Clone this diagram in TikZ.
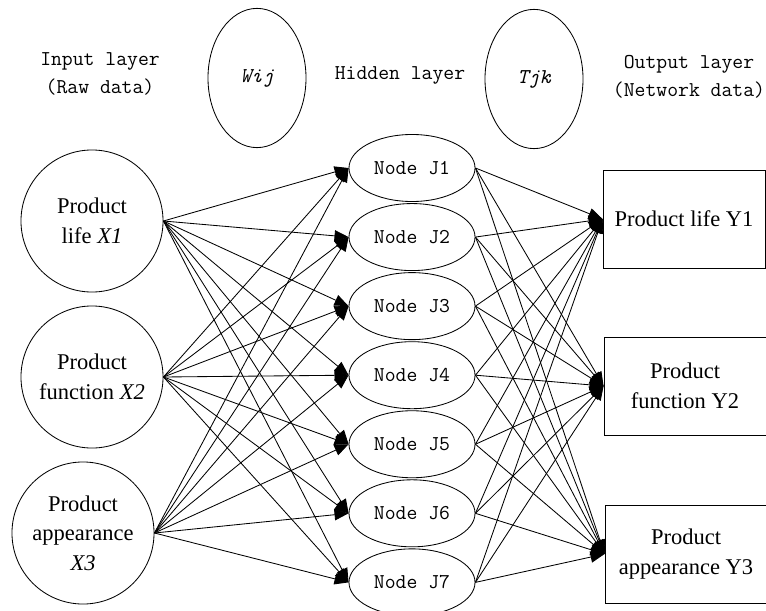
\documentclass[tikz,border=0pt]{standalone}
\usepackage{fontspec}
\setmainfont{Liberation Serif}
\usetikzlibrary{arrows.meta,positioning,shapes.geometric}
\tikzset{
  inputcirc/.style={circle, draw, line width=0.6pt,
    minimum size=3.55cm, inner sep=0pt, align=center,
    font=\fontsize{16}{21}\selectfont},
  hiddenell/.style={ellipse, draw, line width=0.6pt,
    minimum width=3.15cm, minimum height=1.675cm, inner sep=0pt,
    font=\ttfamily\fontsize{15}{18}\selectfont},
  weightell/.style={ellipse, draw, line width=0.6pt,
    minimum width=2.45cm, minimum height=3.48cm, inner sep=0pt,
    font=\ttfamily\itshape\fontsize{15}{18}\selectfont},
  outputbox/.style={rectangle, draw, line width=0.6pt,
    minimum width=4.05cm, minimum height=2.45cm, align=center,
    font=\fontsize{16}{21.5}\selectfont},
  layertext/.style={align=center, font=\ttfamily\fontsize{15}{20}\selectfont},
  linkarrow/.style={-{Triangle[length=10pt,width=8pt]}, line width=0.6pt},
}
\begin{document}
\begin{tikzpicture}[x=0.025cm, y=-0.025cm]
  \useasboundingbox (0,0) rectangle (766,610);
  % layer titles and weights
  \node[layertext] (inlab) at (100,74) {Input layer\\(Raw data)};
  \node[weightell] (wij) at (257,78) {Wij};
  \node[layertext] (hidlab) at (400,75) {Hidden layer};
  \node[weightell] (tjk) at (534,79) {Tjk};
  \node[layertext] (outlab) at (689,77) {Output layer\\(Network data)};
  % input layer
  \node[inputcirc] (x1) at (92,221) {Product\\life \textit{X1}};
  \node[inputcirc] (x2) at (92,377) {Product\\function \textit{X2}};
  \node[inputcirc] (x3) at (83,533) {Product\\appearance\\\textit{X3}};
  % hidden layer
  \node[hiddenell] (j1) at (412,168) {Node J1};
  \node[hiddenell, below=0.03cm of j1] (j2) {Node J2};
  \node[hiddenell, below=0.03cm of j2] (j3) {Node J3};
  \node[hiddenell, below=0.03cm of j3] (j4) {Node J4};
  \node[hiddenell, below=0.03cm of j4] (j5) {Node J5};
  \node[hiddenell, below=0.03cm of j5] (j6) {Node J6};
  \node[hiddenell, below=0.03cm of j6] (j7) {Node J7};
  % output layer
  \node[outputbox] (y1) at (684,219) {Product life Y1};
  \node[outputbox] (y2) at (685,386) {Product\\function Y2};
  \node[outputbox] (y3) at (686,554) {Product\\appearance Y3};
  % links
  \foreach \i in {1,2,3}
    \foreach \j in {1,...,7}
      \draw[linkarrow] (x\i.east) -- (j\j.west);
  \foreach \j in {1,...,7}
    \foreach \k in {1,2,3}
      \draw[linkarrow] (j\j.east) -- (y\k.west);
\end{tikzpicture}
\end{document}
